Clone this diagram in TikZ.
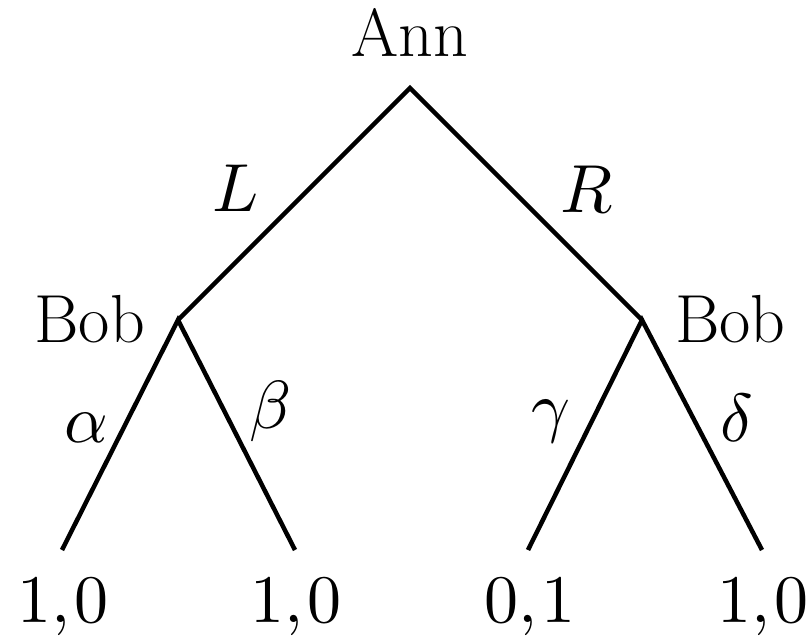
\documentclass[tikz,border=0pt]{standalone}
\DeclareFontFamily{OML}{cmm}{\skewchar\font127 }
\DeclareFontShape{OML}{cmm}{m}{it}{<->cmmi10}{}
\DeclareFontShape{OT1}{cmr}{m}{n}{<->cmr10}{}
\begin{document}
\begin{tikzpicture}[x=1pt,y=-1pt,
  edge/.style={line width=4.5pt,line join=miter},
  txt/.style={inner sep=0pt,font=\fontsize{68}{72}\selectfont}]
\useasboundingbox (0,0) rectangle (812,636);
\coordinate (root) at (410,88);
\coordinate (bl) at (178,320);
\coordinate (br) at (642,320);
\coordinate (l1) at (62,550);
\coordinate (l2) at (295,550);
\coordinate (l3) at (528,550);
\coordinate (l4) at (762,550);
\draw[edge] (bl) -- (root) -- (br);
\draw[edge] (l1) -- (bl) -- (l2);
\draw[edge] (l3) -- (br) -- (l4);
\node[txt,anchor=base] (ann) at (410,57) {Ann};
\node[txt,anchor=base east] (bobL) at (145,343) {Bob};
\node[txt,anchor=base west] (bobR) at (675,343) {Bob};
\node[txt] (L) at (236,188) {$L$};
\node[txt] (R) at (587,189) {$R$};
\node[txt] (a) at (86,428) {$\alpha$};
\node[txt] (b) at (271,412) {$\beta$};
\node[txt] (g) at (551,421) {$\gamma$};
\node[txt] (d) at (737,418) {$\delta$};
\node[txt,anchor=base] (p1) at (63,622) {$1,0$};
\node[txt,anchor=base] (p2) at (296,622) {$1,0$};
\node[txt,anchor=base] (p3) at (530,622) {$0,1$};
\node[txt,anchor=base] (p4) at (763,622) {$1,0$};
\end{tikzpicture}
\end{document}
